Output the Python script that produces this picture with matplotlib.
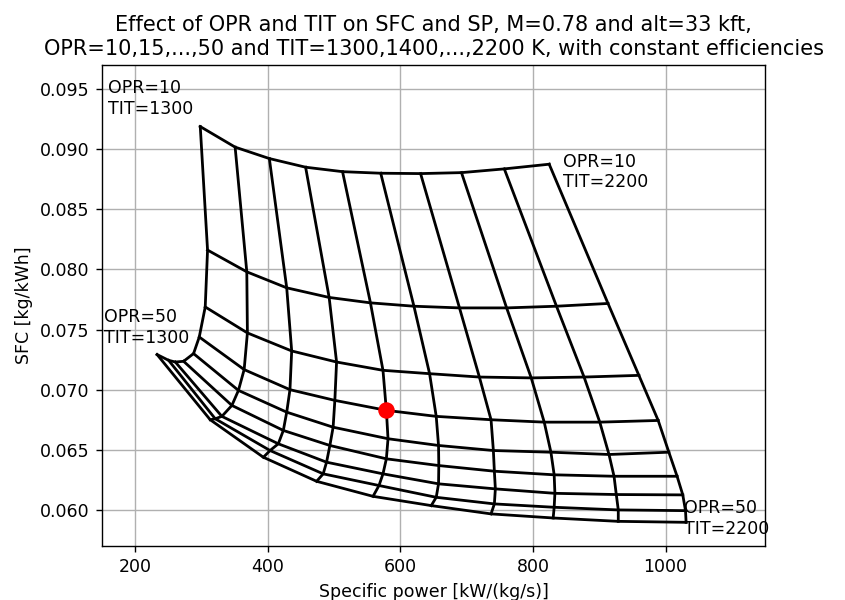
import numpy as np
import matplotlib
matplotlib.use("Agg")
import matplotlib.pyplot as plt

opr = [10, 15, 20, 25, 30, 35, 40, 45, 50]
tit = [1300, 1400, 1500, 1600, 1700, 1800, 1900, 2000, 2100, 2200]

# specific power [kW/(kg/s)], one row per OPR, columns per TIT
sp_opr10 = [298.2, 350.8, 402.4, 457.1, 512.8, 570.4, 630.5, 692.2, 756.8, 824.5]
sp_opr15 = [309.2, 368.4, 428.6, 492.6, 554.9, 620.5, 689.2, 760.3, 835.5, 913.2]
sp_opr20 = [305.7, 369.3, 436.1, 503.8, 573.8, 644.1, 719.2, 797.4, 877.1, 959.8]
sp_opr25 = [296.7, 364.4, 433.5, 501.2, 578.9, 654.1, 736.8, 817.0, 900.8, 988.9]
sp_opr30 = [288.1, 355.8, 428.6, 498.6, 581.4, 657.6, 740.3, 827.1, 914.7, 1005.0]
sp_opr35 = [273.1, 345.9, 423.5, 493.7, 578.9, 658.0, 741.8, 832.0, 922.3, 1017.4]
sp_opr40 = [260.6, 330.8, 415.9, 488.7, 573.8, 657.6, 743.3, 833.1, 925.7, 1026.0]
sp_opr45 = [250.5, 320.8, 403.5, 483.6, 567.8, 654.1, 741.8, 832.0, 928.7, 1030.1]
sp_opr50 = [233.1, 313.2, 393.4, 473.7, 558.8, 646.6, 736.8, 830.5, 928.7, 1031.0]

# SFC [kg/kWh]
sfc_opr10 = [0.09188, 0.09017, 0.08922, 0.08850, 0.08813, 0.08800, 0.08797, 0.08805, 0.08836, 0.08875]
sfc_opr15 = [0.08161, 0.07980, 0.07847, 0.07767, 0.07722, 0.07694, 0.07680, 0.07680, 0.07694, 0.07717]
sfc_opr20 = [0.07688, 0.07472, 0.07322, 0.07230, 0.07161, 0.07133, 0.07105, 0.07098, 0.07105, 0.07119]
sfc_opr25 = [0.07438, 0.07167, 0.07000, 0.06911, 0.06828, 0.06778, 0.06750, 0.06730, 0.06730, 0.06744]
sfc_opr30 = [0.07300, 0.06994, 0.06813, 0.06688, 0.06592, 0.06536, 0.06494, 0.06480, 0.06461, 0.06480]
sfc_opr35 = [0.07236, 0.06869, 0.06661, 0.06536, 0.06425, 0.06369, 0.06322, 0.06292, 0.06280, 0.06280]
sfc_opr40 = [0.07230, 0.06778, 0.06550, 0.06397, 0.06300, 0.06217, 0.06175, 0.06138, 0.06128, 0.06125]
sfc_opr45 = [0.07244, 0.06758, 0.06494, 0.06300, 0.06203, 0.06105, 0.06050, 0.06022, 0.06000, 0.05994]
sfc_opr50 = [0.07292, 0.06750, 0.06438, 0.06238, 0.06113, 0.06036, 0.05967, 0.05933, 0.05905, 0.05897]

# design point
design_sp = 578.9
design_sfc = 0.06828

corner_labels = ["OPR=10\nTIT=1300", "OPR=50\nTIT=1300", "OPR=10\nTIT=2200", "OPR=50\nTIT=2200"]
corner_label_x = [159, 153, 845, 1028]
corner_label_y = [0.0942, 0.0752, 0.0881, 0.0593]

sp = np.array([sp_opr10, sp_opr15, sp_opr20, sp_opr25, sp_opr30,
               sp_opr35, sp_opr40, sp_opr45, sp_opr50])
sfc = np.array([sfc_opr10, sfc_opr15, sfc_opr20, sfc_opr25, sfc_opr30,
                sfc_opr35, sfc_opr40, sfc_opr45, sfc_opr50])

plt.rcParams['font.family'] = ['DejaVu Sans']
dpi = 125
fig = plt.figure(figsize=(845 / dpi, 600 / dpi), dpi=dpi)
ax = fig.add_axes([102 / 845, (600 - 546) / 600, 663 / 845, 481 / 600])

for j in range(len(opr)):
    ax.plot(sp[j, :], sfc[j, :], 'k-', lw=1.6)
for i in range(len(tit)):
    ax.plot(sp[:, i], sfc[:, i], 'k-', lw=1.6)

ax.plot([design_sp], [design_sfc], 'o', color='red', markersize=8.5)

for t, x, y in zip(corner_labels, corner_label_x, corner_label_y):
    ax.text(x, y, t, ha='left', va='center', fontsize=10)

ax.set_xlim(150, 1150)
ax.set_ylim(0.057, 0.097)
ax.set_xticks([200, 400, 600, 800, 1000])
ax.set_yticks([0.060, 0.065, 0.070, 0.075, 0.080, 0.085, 0.090, 0.095])
ax.grid(True)
ax.set_axisbelow(True)
ax.set_xlabel("Specific power [kW/(kg/s)]")
ax.set_ylabel("SFC [kg/kWh]")
ax.set_title("Effect of OPR and TIT on SFC and SP, M=0.78 and alt=33 kft,\n"
             "OPR=10,15,...,50 and TIT=1300,1400,...,2200 K, with constant efficiencies")

fig.savefig("out.png", dpi=dpi)
